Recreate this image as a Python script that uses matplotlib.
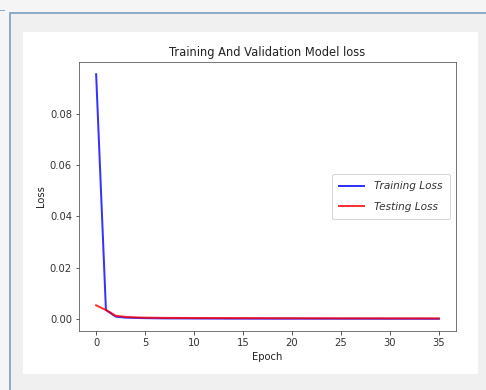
import matplotlib
matplotlib.use("Agg")
import matplotlib.pyplot as plt
from matplotlib.patches import Rectangle
from matplotlib.lines import Line2D

epochs = list(range(36))
train_loss = [0.0955, 0.0035, 0.0009, 0.0005, 0.0004, 0.0003, 0.00025, 0.0002, 0.0002, 0.00018,
              0.00016, 0.00015, 0.00014, 0.00013, 0.00012, 0.00012, 0.00011, 0.00011, 0.0001, 0.0001,
              0.0001, 0.0001, 0.00009, 0.00009, 0.00009, 0.00008, 0.00008, 0.00008, 0.00008, 0.00007,
              0.00007, 0.00007, 0.00007, 0.00007, 0.00006, 0.00006]
test_loss = [0.0053, 0.0035, 0.0012, 0.0008, 0.0006, 0.0005, 0.00045, 0.0004, 0.0004, 0.00038,
             0.00036, 0.00035, 0.00034, 0.00033, 0.00032, 0.00031, 0.0003, 0.0003, 0.00029, 0.00028,
             0.00028, 0.00027, 0.00026, 0.00026, 0.00025, 0.00025, 0.00024, 0.00024, 0.00023, 0.00023,
             0.00022, 0.00022, 0.00021, 0.00021, 0.0002, 0.0002]

W, H = 486, 390
fig = plt.figure(figsize=(W / 72, H / 72), dpi=72, facecolor="#f5f5f5")

def fx(px):
    return px / W

def fy(py):
    return 1 - py / H

# screenshot frame
fig.patches.append(Rectangle((fx(10), 0), 1 - fx(10), fy(13), transform=fig.transFigure,
                             facecolor="#f0f0f0", edgecolor="none", zorder=-10))
fig.patches.append(Rectangle((fx(23), fy(374)), fx(478) - fx(23), fy(32) - fy(374),
                             transform=fig.transFigure, facecolor="white",
                             edgecolor="none", zorder=-9))
fig.lines.append(Line2D([fx(10), 1], [fy(13), fy(13)], transform=fig.transFigure,
                        color="#8eaacb", lw=2, zorder=-8))
fig.lines.append(Line2D([fx(10), fx(10)], [0, fy(13)], transform=fig.transFigure,
                        color="#8eaacb", lw=2, zorder=-8))
fig.lines.append(Line2D([0, fx(4)], [fy(10), fy(10)], transform=fig.transFigure,
                        color="#8eaacb", lw=1, zorder=-8))

ax = fig.add_axes([fx(79), fy(331), fx(456) - fx(79), fy(62) - fy(331)])
ax.set_zorder(5)
ax.plot(epochs, train_loss, color="blue", lw=2, alpha=0.8, label="Training Loss")
ax.plot(epochs, test_loss, color="red", lw=2, alpha=0.8, label="Testing Loss")
ax.set_title("Training And Validation Model loss", fontsize=11.5, color="#222222")
ax.set_xlabel("Epoch", fontsize=10, color="#222222")
ax.set_ylabel("Loss", fontsize=10, color="#222222")
ax.set_xticks([0, 5, 10, 15, 20, 25, 30, 35])
ax.set_yticks([0.0, 0.02, 0.04, 0.06, 0.08])
ax.tick_params(labelsize=10, colors="#333333")
for s in ax.spines.values():
    s.set_color("#555555")
leg = ax.legend(loc="center right", prop={"style": "italic", "size": 10.5},
                labelspacing=1.0, handlelength=2.4, borderpad=0.7, handletextpad=0.9,
                borderaxespad=0.6)
for t in leg.get_texts():
    t.set_color("#333333")
fig.savefig("out.png", dpi=72, facecolor=fig.get_facecolor())
